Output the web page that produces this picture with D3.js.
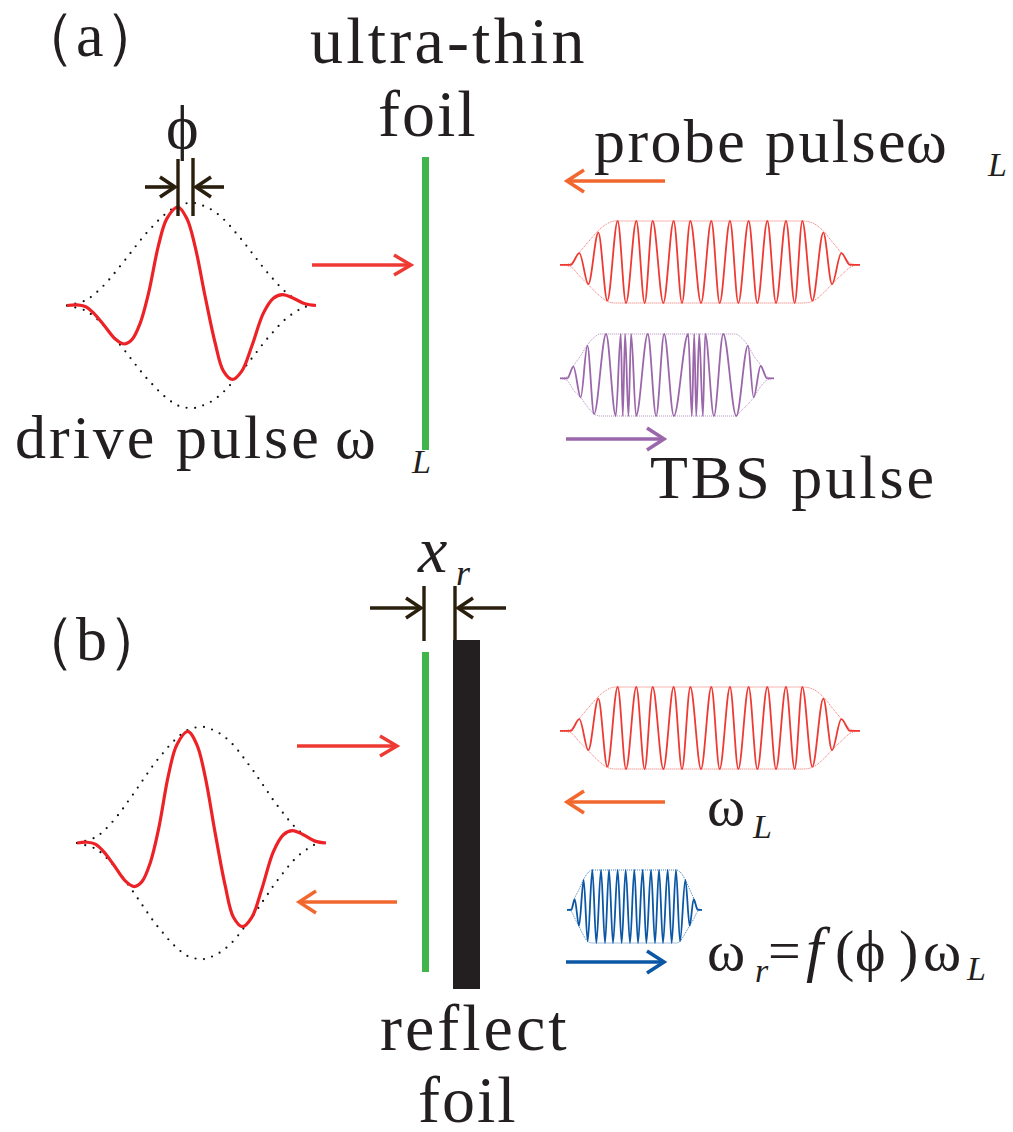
<!DOCTYPE html>
<html>
<head>
<meta charset="utf-8">
<script src="https://cdn.jsdelivr.net/npm/d3@7"></script>
<style>
  html, body { margin: 0; padding: 0; background: #fff; }
  text { font-family: "Liberation Serif", serif; fill: #231f20; }
</style>
</head>
<body>
<div id="figure"></div>
<script>
// few-cycle drive pulse, field and envelope (a.u.)
var driveT = [0,30,55,80,110,145,172,195,220,245,275,300,333,360,385,415,445,470,497,525,555,590,620,647,680,715,748];
var driveE = [0,2,-3,-23,-58,-101,-116,-103,-53,37,182,262,297,262,177,27,-113,-198,-223,-198,-123,-23,22,33,22,5,0];
var driveEnvT = [0,55,80,105,130,150,172,192,212,233,256,282,307,332,358,384,409,434,461,486,508,530,550,570,590,612,637,661,687,712,740];
var driveEnv = [0,15,32,55,82,107,134,160,186,212,237,264,285,301,308,309,301,289,269,244,218,192,166,140,114,88,60,37,19,5,0];

// probe pulse (extrema of the field)
var probeT = [0,32,58,85,115,142,173,198,229,254,278,310,341,366,391,423,454,479,510,535,566,592,622,648,678,704,727,757,790,816,844,870,900];
var probeE = [0,0,35,-58,97,-108,132,-115,132,-115,132,-115,132,-115,132,-115,132,-115,132,-115,132,-115,132,-115,132,-115,132,-108,97,-58,35,0,0];
var probeUpT = [0,30,58,90,115,140,165,730,760,790,820,845,875,900];
var probeUp = [0,3,37,75,103,123,132,132,125,102,65,35,3,0];
var probeLowT = [0,30,60,85,115,142,165,730,757,785,816,845,875,900];
var probeLow = [0,-5,-35,-60,-90,-110,-115,-115,-110,-90,-58,-30,-5,0];

// TBS pulse
var tbsT = [0,22,40,62,82,102,138,167,182,188,195,205,213,228,263,288,312,341,384,395,402,408,417,428,435,461,489,528,563,580,601,620,641];
var tbsE = [0,0,35,-57,98,-107,133,-113,133,-113,133,-113,133,-113,133,-113,133,-113,133,-113,133,-113,133,-113,133,-113,133,-113,98,-57,37,0,0];
var tbsUpT = [0,22,40,60,82,105,120,525,545,563,582,601,620,641];
var tbsUp = [0,5,37,65,100,125,133,133,120,98,65,40,5,0];
var tbsLowT = [0,22,40,62,82,102,120,525,545,563,580,601,620,641];
var tbsLow = [0,-7,-35,-57,-85,-107,-113,-113,-95,-78,-57,-25,-5,0];

// reflected pulse
var reflT = [0,13,23,36,50,62,76,88,102,114,126,138,152,164,176,189,202,213,227,238,252,264,276,288,302,314,327,339,355,368,380,392,405];
var reflE = [0,0,32,-48,90,-95,120,-100,120,-100,120,-100,120,-100,120,-100,120,-100,120,-100,120,-100,120,-100,120,-100,120,-95,90,-48,32,0,0];
var reflUpT = [0,13,23,38,50,63,76,328,343,355,368,380,392,405];
var reflUp = [0,5,35,65,92,112,120,120,110,90,62,35,5,0];
var reflLowT = [0,13,23,36,50,62,76,328,339,355,368,380,392,405];
var reflLow = [0,-5,-25,-50,-78,-95,-100,-100,-95,-70,-48,-28,-5,0];

var RED = "#ee3a33", DRIVE = "#ed2227", ORANGE = "#f2672e", PURPLE = "#9b67ab",
    BLUE = "#0b57a5", GREEN = "#41b54b", DARK = "#2a1e0c", INK = "#231f20";

var svg = d3.select("#figure").append("svg")
    .attr("width", 1013)
    .attr("height", 1132)
    .style("display", "block");

function zip(xs, ys) {
  return xs.map(function(v, i) { return [v, ys[i]]; });
}

function drawDrive(xRange, yRange) {
  var x = d3.scaleLinear().domain([0, 748]).range(xRange);
  var y = d3.scaleLinear().domain([-309, 309]).range(yRange);
  var line = d3.line().x(d => x(d[0])).y(d => y(d[1])).curve(d3.curveCatmullRom);

  [1, -1].forEach(function(sign) {
    svg.append("path")
        .attr("d", line(zip(driveEnvT, driveEnv.map(v => v * sign))))
        .attr("fill", "none")
        .attr("stroke", "#111")
        .attr("stroke-width", 2.2)
        .attr("stroke-linecap", "round")
        .attr("stroke-dasharray", "0 8.5");
  });

  svg.append("path")
      .attr("d", line(zip(driveT, driveE)))
      .attr("fill", "none")
      .attr("stroke", DRIVE)
      .attr("stroke-width", 3.2);
}

function drawPulse(p, color, xRange, yRange) {
  var x = d3.scaleLinear().domain(d3.extent(p.t)).range(xRange);
  var y = d3.scaleLinear().domain(d3.extent(p.e)).range(yRange);
  var env = d3.line().x(d => x(d[0])).y(d => y(d[1])).curve(d3.curveMonotoneX);

  [zip(p.upT, p.up), zip(p.lowT, p.low)].forEach(function(pts) {
    svg.append("path")
        .attr("d", env(pts))
        .attr("fill", "none")
        .attr("stroke", color)
        .attr("stroke-width", 1)
        .attr("stroke-opacity", 0.75)
        .attr("stroke-dasharray", "1 1");
  });

  svg.append("path")
      .attr("d", env(zip(p.t, p.e)))
      .attr("fill", "none")
      .attr("stroke", color)
      .attr("stroke-width", 1.8)
      .attr("stroke-linejoin", "round");
}

function arrow(x1, x2, y, color, w, back, half) {
  var dir = x2 > x1 ? 1 : -1;
  var g = svg.append("g")
      .attr("fill", "none")
      .attr("stroke", color)
      .attr("stroke-width", w);
  g.append("line").attr("x1", x1).attr("x2", x2 - dir).attr("y1", y).attr("y2", y);
  g.append("path").attr("d", d3.line()([[x2 - dir * back, y - half], [x2 - dir, y], [x2 - dir * back, y + half]]));
}

function bar(x, y1, y2) {
  svg.append("line")
      .attr("x1", x).attr("x2", x).attr("y1", y1).attr("y2", y2)
      .attr("stroke", DARK).attr("stroke-width", 3.4);
}

function label(str, x, y, size, spacing, italic) {
  svg.append("text")
      .attr("x", x)
      .attr("y", y)
      .attr("font-size", size)
      .attr("letter-spacing", spacing || 0)
      .attr("font-style", italic ? "italic" : "normal")
      .text(str);
}

var probe = {t: probeT, e: probeE, upT: probeUpT, up: probeUp, lowT: probeLowT, low: probeLow};
var tbs = {t: tbsT, e: tbsE, upT: tbsUpT, up: tbsUp, lowT: tbsLowT, low: tbsLow};
var refl = {t: reflT, e: reflE, upT: reflUpT, up: reflUp, lowT: reflLowT, low: reflLow};

// panel (a)
drawDrive([67, 316], [408, 203]);
drawPulse(probe, RED, [560, 860], [303, 221]);
drawPulse(tbs, PURPLE, [560, 774], [416, 334]);

svg.append("rect").attr("x", 422).attr("y", 157).attr("width", 7).attr("height", 293).attr("fill", GREEN);

arrow(312, 412, 265, RED, 3.4, 18, 10);
arrow(665, 566, 181, ORANGE, 3.6, 18, 11);
arrow(566, 665, 439, PURPLE, 3.6, 18, 11);

bar(178, 159, 216);
bar(193, 158, 216);
arrow(145, 176, 187, DARK, 3.6, 16, 10);
arrow(224, 195, 187, DARK, 3.6, 16, 10);

label("（a）", 14, 56, 62);
label("ultra-thin", 310, 63, 66, 3.2);
label("foil", 378, 136, 66, 2);
label("ϕ", 166, 148, 62);
label("probe pulse", 594, 162, 62, 2.4);
label("ω", 906, 162, 62);
label("L", 988, 176, 34, 0, true);
label("drive pulse", 15, 458, 62, 3);
label("ω", 335, 458, 62);
label("L", 412, 473, 34, 0, true);
label("TBS pulse", 650, 498, 62, 3);

// panel (b)
drawDrive([77, 326], [959, 727]);
drawPulse(probe, RED, [560, 860], [769, 687]);
drawPulse(refl, BLUE, [567, 702], [943, 870]);

svg.append("rect").attr("x", 422).attr("y", 652).attr("width", 7).attr("height", 320).attr("fill", GREEN);
svg.append("rect").attr("x", 453).attr("y", 640).attr("width", 27).attr("height", 349).attr("fill", INK);

arrow(297, 398, 746, RED, 3.4, 18, 10);
arrow(397, 298, 902, ORANGE, 3.4, 18, 11);
arrow(665, 566, 802, ORANGE, 3.6, 18, 11);
arrow(566, 665, 962, BLUE, 3.6, 18, 11);

bar(424, 586, 641);
bar(455, 586, 640);
arrow(370, 422, 608, DARK, 3.4, 16, 10);
arrow(506, 457, 608, DARK, 3.4, 16, 10);

label("（b）", 14, 660, 62);
label("x", 418, 572, 66, 0, true);
label("r", 456, 585, 36, 0, true);
label("ω", 707, 825, 58);
label("L", 753, 838, 34, 0, true);
label("ω", 707, 970, 58);
label("r", 755, 982, 34, 0, true);
label("=", 768, 970, 58);
label("f", 806, 970, 62, 0, true);
label("(", 835, 970, 58);
label("ϕ", 855, 970, 58);
label(")", 899, 970, 58);
label("ω", 923, 970, 58);
label("L", 967, 980, 34, 0, true);
label("reflect", 380, 1050, 66, 3);
label("foil", 418, 1122, 66, 2);
</script>
</body>
</html>
